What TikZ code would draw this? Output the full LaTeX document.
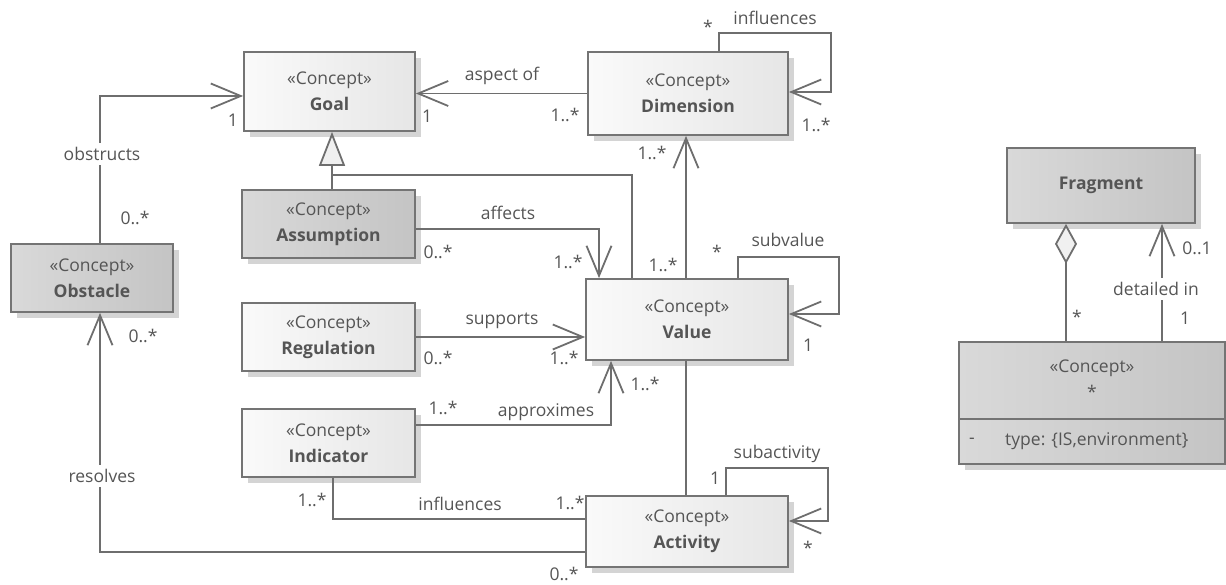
\documentclass[tikz,border=0pt]{standalone}
\usepackage{fontspec}
\setmainfont{Open Sans}
\usetikzlibrary{arrows.meta,shadows,calc}
\definecolor{bc}{HTML}{747474}
\definecolor{lc}{HTML}{6E6E6E}
\definecolor{tc}{HTML}{555555}
\definecolor{lightL}{HTML}{FAFAFA}
\definecolor{lightR}{HTML}{E6E6E6}
\definecolor{darkL}{HTML}{D9D9D9}
\definecolor{darkR}{HTML}{C4C4C4}
\definecolor{shc}{HTML}{D4D4D4}
\definecolor{tipfill}{HTML}{F0F0F0}
\tikzset{
  base/.style={draw=bc, line width=1.8pt, text=tc, align=center, inner sep=0pt,
     font=\fontsize{17.5}{26}\selectfont,
     general shadow={fill=shc, shadow xshift=6pt, shadow yshift=-6pt}},
  lbox/.style={base, left color=lightL, right color=lightR},
  dbox/.style={base, left color=darkL, right color=darkR},
  conn/.style={draw=lc, line width=1.8pt},
  arr/.style={conn, -{Straight Barb[length=30pt,width=25pt,line width=1.8pt]}},
  gen/.style={conn, -{Triangle[length=34pt,width=26pt,fill=tipfill,line width=1.8pt]}},
  agg/.style={conn, -{Diamond[length=40pt,width=22pt,fill=tipfill,line width=1.8pt]}},
  lab/.style={text=tc, inner sep=1pt, font=\fontsize{17.5}{22}\selectfont},
  gap/.style={lab, fill=white, inner sep=4pt},
}
\begin{document}
\begin{tikzpicture}[x=1pt,y=-1pt]
\useasboundingbox (0,0) rectangle (1226,585);
% boxes
\node[lbox, minimum width=171pt, minimum height=79pt] (goal) at (329.5,91.5) {«Concept»\\\textbf{Goal}};
\node[lbox, minimum width=200pt, minimum height=83pt] (dim) at (688,93.5) {«Concept»\\\textbf{Dimension}};
\node[dbox, minimum width=173pt, minimum height=68pt] (assump) at (328.5,224) {«Concept»\\\textbf{Assumption}};
\node[dbox, minimum width=162pt, minimum height=68pt] (obst) at (92,278) {«Concept»\\\textbf{Obstacle}};
\node[lbox, minimum width=173pt, minimum height=68pt] (reg) at (328.5,337) {«Concept»\\\textbf{Regulation}};
\node[lbox, minimum width=173pt, minimum height=68pt] (ind) at (328.5,443) {«Concept»\\\textbf{Indicator}};
\node[lbox, minimum width=202pt, minimum height=81pt] (value) at (687,319.5) {«Concept»\\\textbf{Value}};
\node[lbox, minimum width=202pt, minimum height=71pt] (act) at (687,531.5) {«Concept»\\\textbf{Activity}};
\node[dbox, minimum width=188pt, minimum height=75pt] (frag) at (1101,185.5) {\textbf{Fragment}};
\node[dbox, minimum width=266pt, minimum height=122pt] (star) at (1092,403) {};
\draw[conn, draw=bc] ([yshift=-16pt]star.west) -- ([yshift=-16pt]star.east);
\node[lab] (starst) at (1092,368) {«Concept»};
\node[lab] (starname) at (1092,392) {*};
\node[lab] (attrdash) at (972,441) {-};
\node[lab, anchor=west] (attr) at (1004,441) {type: \{IS,environment\}};
% helper coordinates
\coordinate (gj) at (332,175);
\coordinate (dl1) at (719,33);
\coordinate (dl2) at (831,92);
\coordinate (vl1) at (738,257);
\coordinate (vl2) at (839,314);
\coordinate (al1) at (726,468);
\coordinate (al2) at (828,521);
% connectors
\draw[arr] ([xshift=8pt]obst.north) |- ([yshift=-4.5pt]goal.west);
\draw[arr] (dim.west) -- (goal.east |- dim.west);
\draw[gen] ([xshift=3.5pt]assump.north) -- ([xshift=2.5pt]goal.south);
\draw[conn] ([xshift=-55pt]value.north) |- (gj);
\draw[arr] (dl1 |- dim.north) -- (dl1) -| (dl2) -- (dim.east |- dl2);
\draw[arr] ([xshift=-1pt]value.north) -- ([xshift=-1pt]value.north |- dim.south);
\draw[arr] ([yshift=-5pt]assump.east) -| ([xshift=-88pt]value.north);
\draw[arr] (vl1 |- value.north) -- (vl1) -| (vl2) -- (value.east |- vl2);
\draw[arr] (reg.east) -- (value.west |- reg.east);
\draw[arr] ([yshift=18pt]ind.east) -| ([xshift=-76pt]value.south);
\draw[conn] ([xshift=-1pt]value.south) -- ([xshift=-1pt]act.north);
\draw[arr] (al1 |- act.north) -- (al1) -| (al2) -- (act.east |- al2);
\draw[conn] ([xshift=4.5pt]ind.south) |- ([yshift=12.5pt]act.west);
\draw[arr] ([yshift=-20.5pt]act.west) -| ([xshift=8pt]obst.south);
\draw[agg] ([xshift=-26pt]star.north) -- ([xshift=-35pt]frag.south);
\draw[arr] ([xshift=70pt]star.north) -- ([xshift=61pt]frag.south);
% labels
\node[gap] (l1) at (102,154) {obstructs};
\node[lab] (l2) at (233,120) {1};
\node[lab] (l3) at (135,218) {0..*};
\node[lab] (l4) at (502,76) {aspect of};
\node[lab] (l5) at (427,116) {1};
\node[lab] (l6) at (565,115) {1..*};
\node[lab] (l7) at (775,18) {influences};
\node[lab] (l8) at (708,27) {*};
\node[lab] (l9) at (816,125) {1..*};
\node[lab] (l10) at (652,153) {1..*};
\node[lab] (l11) at (663,265) {1..*};
\node[lab] (l12) at (508,213) {affects};
\node[lab] (l13) at (438,252) {0..*};
\node[lab] (l14) at (568,262) {1..*};
\node[lab] (l15) at (788,240) {subvalue};
\node[lab] (l16) at (717,252) {*};
\node[lab] (l17) at (808,345) {1};
\node[lab] (l18) at (502,321) {supports};
\node[lab] (l19) at (438,358) {0..*};
\node[lab] (l20) at (564,358) {1..*};
\node[lab] (l21) at (546,412) {approximes};
\node[lab] (l22) at (443,408) {1..*};
\node[lab] (l23) at (645,384) {1..*};
\node[lab] (l24) at (777,454) {subactivity};
\node[lab] (l25) at (715,478) {1};
\node[lab] (l26) at (808,548) {*};
\node[lab] (l27) at (460,504) {influences};
\node[lab] (l28) at (312,500) {1..*};
\node[lab] (l29) at (570,503) {1..*};
\node[gap] (l30) at (102,476) {resolves};
\node[lab] (l31) at (143,336) {0..*};
\node[lab] (l32) at (564,574) {0..*};
\node[lab] (l33) at (1077,317) {*};
\node[gap] (l34) at (1156,289) {detailed in};
\node[lab] (l35) at (1197,248) {0..1};
\node[lab] (l36) at (1185,318) {1};
\end{tikzpicture}
\end{document}
